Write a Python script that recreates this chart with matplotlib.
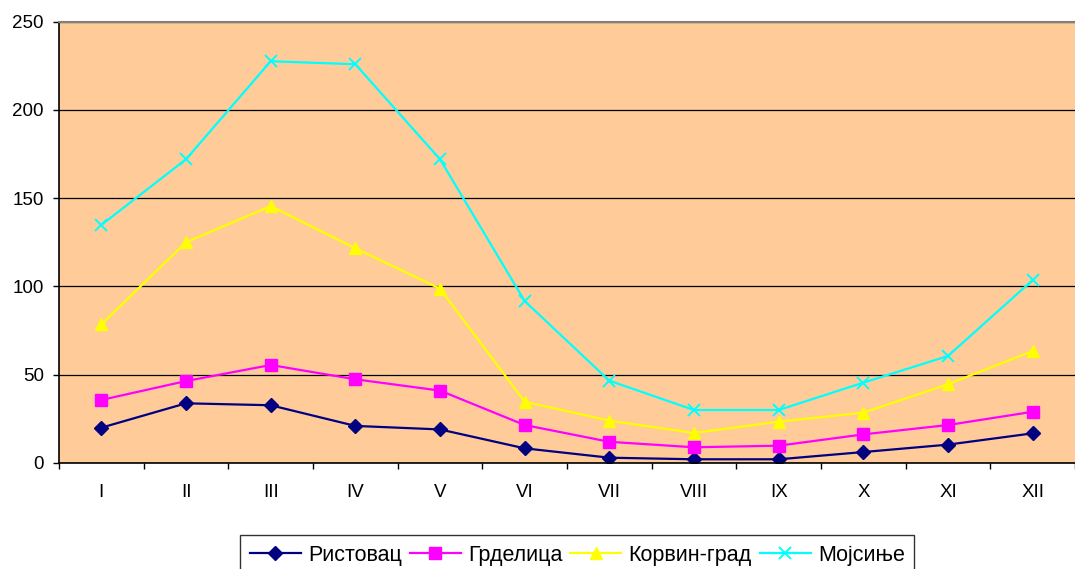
import numpy as np
import matplotlib
matplotlib.use("Agg")
import matplotlib.pyplot as plt

# Monthly values for four stations
months = ["I", "II", "III", "IV", "V", "VI", "VII", "VIII", "IX", "X", "XI", "XII"]
ristovac = [20, 33.8, 32.7, 21, 19, 8.3, 3, 2.1, 2.1, 6.2, 10.4, 16.8]
grdelica = [35.7, 46.4, 55.5, 47.4, 41, 21.5, 12, 8.9, 9.8, 16.2, 21.5, 29]
korvin_grad = [78.5, 125, 145.5, 121.6, 98.7, 34.7, 24, 17, 23.4, 28.5, 44.6, 63.4]
mojsinje = [134.8, 172, 227.5, 225.8, 172, 91.7, 46.6, 30, 30, 45.5, 60.6, 103.6]

series_names = ["Ристовац", "Грделица", "Корвин-град", "Мојсиње"]

plt.rcParams['font.family'] = ['Liberation Sans', 'DejaVu Sans']

fig = plt.figure(figsize=(10.75, 5.69), dpi=100)
ax = fig.add_axes([0.0549, 0.1863, 0.9451, 0.7759])
ax.set_facecolor("#FFCC99")

x = np.arange(1, len(months) + 1)
styles = [
    dict(color="#000080", marker="D", markersize=7.2),
    dict(color="#FF00FF", marker="s", markersize=8.3),
    dict(color="#FFFF00", marker="^", markersize=9),
    dict(color="#00FFFF", marker="x", markersize=9, markeredgewidth=1.4),
]
for vals, name, st in zip([ristovac, grdelica, korvin_grad, mojsinje], series_names, styles):
    ax.plot(x, vals, linewidth=1.6, label=name, **st)

ax.set_xlim(0.5, 12.5)
ax.set_ylim(0, 250)
ax.set_yticks([0, 50, 100, 150, 200, 250])
ax.yaxis.grid(True, color="black", linewidth=0.9)
ax.set_axisbelow(True)

ax.set_xticks(x)
ax.set_xticklabels(months)
ax.set_xticks(np.arange(0.5, 13, 1), minor=True)
ax.tick_params(axis="x", which="major", length=0, pad=15, labelsize=13.5)
ax.tick_params(axis="x", which="minor", length=4, width=1, direction="out")
ax.tick_params(axis="y", length=4, width=1, pad=7, labelsize=13.5)

for side in ["left", "bottom"]:
    ax.spines[side].set_color("black")
    ax.spines[side].set_linewidth(1.2)
ax.spines["top"].set_color("#808080")
ax.spines["top"].set_linewidth(1.5)
ax.spines["right"].set_visible(False)

leg = fig.legend(loc="upper center", bbox_to_anchor=(0.537, 0.0598), ncol=4,
                 fontsize=15.5, frameon=True, fancybox=False, edgecolor="black",
                 handlelength=2.37, handletextpad=0.33, columnspacing=0.37,
                 borderpad=0.45, borderaxespad=0)
leg.get_frame().set_linewidth(1)

fig.savefig("out.png", dpi=100)
